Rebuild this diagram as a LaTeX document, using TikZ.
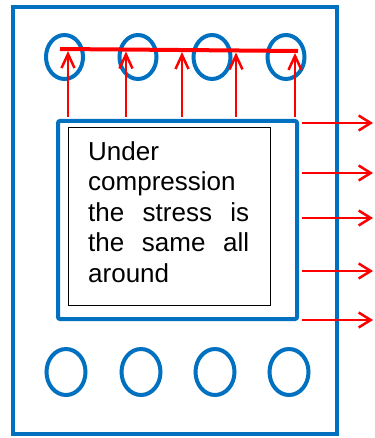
\documentclass[tikz,border=0pt]{standalone}
\usepackage{fontspec}
\setmainfont{Liberation Sans}
\usetikzlibrary{shapes.geometric,arrows.meta}
\definecolor{pblue}{HTML}{0070C0}
\definecolor{pred}{HTML}{FF0000}
\tikzset{
  frame/.style={draw=pblue, line width=4.5pt, rectangle, inner sep=0pt},
  hole/.style={draw=pblue, line width=4pt, ellipse, inner sep=0pt},
  tophole/.style={hole, minimum width=37pt, minimum height=44pt},
  bothole/.style={hole, minimum width=39pt, minimum height=46pt},
  force/.style={draw=pred, line width=2.5pt, -{Straight Barb[length=12pt,width=15pt]}},
  upforce/.style={force, -{Straight Barb[length=14pt,width=13pt]}},
}
\begin{document}
\begin{tikzpicture}[x=1pt,y=-1pt]
\useasboundingbox (0,0) rectangle (374,438);
\node[frame, minimum width=324pt, minimum height=427pt] (outer) at (175,220.5) {};
\node[frame, rounded corners=2pt, line width=4pt, minimum width=239pt, minimum height=198pt] (inner) at (177.5,220) {};
\node[draw=black, line width=0.8pt, rectangle, minimum width=202pt, minimum height=178pt, inner sep=0pt] (textbox) at (169,216) {};
\node[anchor=north west, text width=161pt, inner sep=0pt, align=left,
      font=\fontsize{26pt}{30.5pt}\selectfont] (txt) at (88,141)
  {Under\\compression\\the\hfill stress\hfill is\\the\hfill same\hfill all\\around};
% holes
\node[tophole] (t1) at (64.5,57) {};
\node[tophole] (t2) at (138,57) {};
\node[tophole] (t3) at (212,57) {};
\node[tophole] (t4) at (286,57) {};
\node[bothole] (b1) at (66,372) {};
\node[bothole] (b2) at (141,372) {};
\node[bothole] (b3) at (215,372) {};
\node[bothole] (b4) at (289,372) {};
% red bar
\coordinate (barL) at (60,49);
\coordinate (barR) at (298,51);
\draw[pred, line width=4pt] (barL) -- (barR);
\foreach \i/\x in {1/68,2/126,3/182,4/236,5/295}{
  \coordinate (vs\i) at (\x,117);
  \coordinate (ve\i) at (\x,{51+2*(\x-60)/238});
  \draw[upforce] (vs\i) -- (ve\i);
}
\foreach \i/\y in {1/123,2/173,3/218,4/271,5/320}{
  \coordinate (hs\i) at (302,\y);
  \coordinate (he\i) at (373,\y);
  \draw[force] (hs\i) -- (he\i);
}
\end{tikzpicture}
\end{document}
